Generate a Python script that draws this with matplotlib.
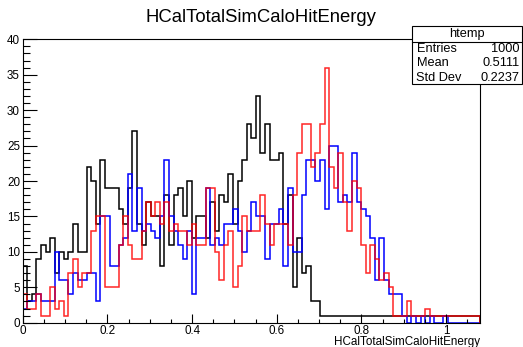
import numpy as np
import matplotlib.pyplot as plt
from matplotlib.patches import Rectangle
from matplotlib.ticker import MultipleLocator

plt.rcParams['font.family'] = ['Liberation Sans', 'DejaVu Sans']

# 100 bins, 0 .. 1.08
edges = np.linspace(0, 1.08, 101)

black = [8, 3, 4, 9, 11, 10, 12, 7, 10, 9,
         10, 14, 10, 10, 22, 20, 14, 23, 19, 19,
         19, 16, 14, 19, 27, 14, 11, 17, 15, 15,
         8, 18, 11, 18, 19, 15, 20, 12, 15, 15,
         12, 17, 13, 18, 17, 21, 14, 20, 23, 28,
         26, 32, 24, 28, 23, 23, 24, 14, 18, 5,
         12, 7, 8, 3, 3, 1, 1, 1, 1, 1,
         1, 1, 1, 1, 1, 1, 1, 1, 1, 1,
         1, 1, 1, 1, 1, 1, 1, 1, 1, 1,
         1, 1, 1, 1, 1, 1, 1, 1, 1, 1]

blue = [2, 3, 3, 4, 3, 3, 3, 10, 6, 6,
        4, 7, 6, 6, 7, 7, 3, 15, 15, 8,
        8, 11, 12, 21, 13, 19, 13, 14, 13, 12,
        15, 23, 15, 13, 11, 9, 13, 4, 12, 12,
        19, 11, 12, 11, 14, 14, 16, 13, 10, 13,
        17, 15, 15, 9, 14, 14, 16, 8, 19, 10,
        10, 18, 23, 23, 20, 23, 16, 25, 25, 17,
        18, 17, 24, 17, 16, 15, 12, 6, 12, 6,
        4, 4, 4, 1, 0, 1, 0, 1, 0, 1,
        0, 0, 1, 0, 0, 0, 0, 0, 0, 0]

red = [4, 2, 2, 4, 1, 1, 5, 2, 3, 1,
       7, 9, 5, 7, 7, 13, 15, 15, 5, 5,
       5, 11, 15, 11, 9, 9, 13, 17, 15, 17,
       14, 17, 13, 14, 13, 13, 11, 14, 11, 11,
       19, 19, 10, 6, 11, 13, 5, 8, 15, 13,
       13, 13, 18, 14, 11, 14, 14, 14, 11, 18,
       24, 28, 28, 22, 24, 28, 36, 22, 19, 24,
       17, 13, 20, 19, 11, 7, 11, 9, 6, 7,
       5, 1, 1, 1, 3, 1, 1, 1, 2, 1,
       1, 1, 1, 1, 1, 1, 1, 1, 1, 1]

W, H = 523, 347
fig = plt.figure(figsize=(W / 100, H / 100), dpi=100)
x0, x1, y0, y1 = 22.7, 480, 39.3, 322.7
ax = fig.add_axes([x0 / W, 1 - y1 / H, (x1 - x0) / W, (y1 - y0) / H])

ax.stairs(black, edges, color='black', lw=1.1)
ax.stairs(blue, edges, color='#0000ff', lw=1.1)
ax.stairs(red, edges, color='#ff0000', lw=1.1, alpha=0.85)

ax.set_xlim(0, 1.08)
ax.set_ylim(0, 40)
ax.xaxis.set_minor_locator(MultipleLocator(0.05))
ax.yaxis.set_major_locator(MultipleLocator(5))
ax.yaxis.set_minor_locator(MultipleLocator(1))
ax.set_xticks([0, 0.2, 0.4, 0.6, 0.8, 1.0])
ax.set_xticklabels(['0', '0.2', '0.4', '0.6', '0.8', '1'])
ax.tick_params(axis='x', which='major', direction='in', length=6.2, width=0.8,
               labelsize=8.4, pad=1.5, top=False)
ax.tick_params(axis='x', which='minor', direction='in', length=3.1, width=0.8, top=False)
ax.tick_params(axis='y', which='major', direction='in', length=9.8, width=0.8,
               labelsize=8.4, pad=2, right=False)
ax.tick_params(axis='y', which='minor', direction='in', length=4.9, width=0.8, right=False)
for s in ax.spines.values():
    s.set_linewidth(0.8)

fig.text(x1 / W, 1 - 345 / H, 'HCalTotalSimCaloHitEnergy', ha='right', va='baseline',
         fontsize=8.4)
fig.text(261 / W, 1 - 17 / H, 'HCalTotalSimCaloHitEnergy', ha='center', va='center',
         fontsize=13.3)

# stats box
bx0, bx1, by0, by1 = 411.5, 521.5, 26, 84
fig.patches.append(Rectangle((bx0 / W, 1 - by1 / H), (bx1 - bx0) / W, (by1 - by0) / H,
                             transform=fig.transFigure, facecolor='white',
                             edgecolor='black', lw=0.8, zorder=5))
fig.add_artist(plt.Line2D([bx0 / W, bx1 / W], [1 - 42 / H, 1 - 42 / H],
                          color='black', lw=0.8, zorder=6))
fig.text((bx0 + bx1) / 2 / W, 1 - 34 / H, 'htemp', ha='center', va='center',
         fontsize=9.2, zorder=7)
rows = [('Entries', '1000'), ('Mean', '0.5111'), ('Std Dev', '0.2237')]
for i, (k, v) in enumerate(rows):
    yy = 1 - (49 + 14.5 * i) / H
    fig.text((bx0 + 5) / W, yy, k, ha='left', va='center', fontsize=9.2, zorder=7)
    fig.text((bx1 - 2) / W, yy, v, ha='right', va='center', fontsize=9.2, zorder=7)

fig.savefig('out.png', dpi=100)
